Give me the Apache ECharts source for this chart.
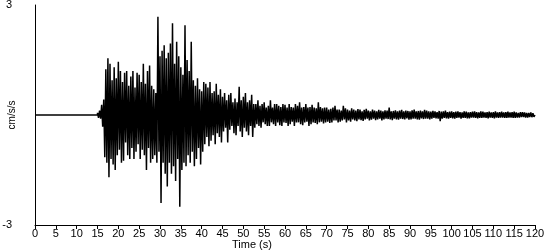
<!DOCTYPE html>
<html>
<head>
<meta charset="utf-8">
<script src="https://cdn.jsdelivr.net/npm/echarts@6/dist/echarts.min.js"></script>
<style>html,body{margin:0;padding:0;background:#fff;}#c{width:550px;height:250px;}</style>
</head>
<body>
<div id="c"></div>
<script>
// Recording: flat until onset, then samples every 0.25 s (values in cm/s/s)
const quietStart = 0;
const onsetTime = 15;
const sampleStep = 0.25;
const accel = [
  0.06,-0.08,0.12,-0.1,   0.28,-0.32,0.42,-1.15,  1.25,-1.3,1.55,-1.7,   1.4,-1.2,0.95,-1.35,
  1.3,-1.5,1.0,-1.1,      1.45,-0.95,1.2,-1.3,    0.9,-1.25,1.15,-0.75,  1.2,-1.1,0.8,-1.2,
  1.05,-0.9,1.2,-1.2,     0.75,-1.0,1.15,-0.8,    1.1,-1.2,0.9,-0.95,    1.4,-1.1,0.85,-1.5,
  1.2,-0.9,1.35,-1.3,     0.8,-1.2,0.7,-1.1,      0.6,-1.3,2.68,-1.0,    1.6,-2.4,1.75,-1.3,
  1.9,-1.6,1.55,-1.95,    1.7,-1.3,1.95,-1.6,     2.5,-1.4,1.4,-1.8,     2.0,-1.2,1.6,-2.5,
  1.3,-1.5,1.1,-1.3,      2.45,-1.4,1.5,-1.1,     1.2,-1.3,2.0,-1.0,     0.95,-1.4,0.8,-1.2,
  1.0,-0.9,0.7,-1.35,     0.65,-1.0,0.9,-0.8,     0.85,-0.6,0.75,-0.85,  0.9,-0.7,0.6,-0.55,
  0.65,-0.8,0.85,-0.5,    0.55,-0.6,0.7,-0.75,    0.5,-0.45,0.6,-0.35,   0.4,-0.75,0.55,-0.4,
  0.6,-0.3,0.35,-0.5,     0.45,-0.55,0.35,-0.3,   0.77,-0.45,0.4,-0.6,   0.5,-0.35,0.6,-0.45,
  0.35,-0.55,0.4,-0.3,    0.55,-0.6,0.3,-0.35,    0.3,-0.25,0.4,-0.3,    0.25,-0.35,0.3,-0.2,
  0.35,-0.25,0.2,-0.3,    0.25,-0.3,0.4,-0.2,     0.2,-0.25,0.3,-0.3,    0.3,-0.2,0.25,-0.28,
  0.22,-0.3,0.3,-0.2,     0.28,-0.22,0.2,-0.3,    0.3,-0.25,0.22,-0.18,  0.2,-0.3,0.3,-0.2,
  0.25,-0.2,0.35,-0.25,   0.2,-0.28,0.22,-0.2,    0.3,-0.18,0.2,-0.3,    0.22,-0.25,0.28,-0.2,
  0.2,-0.22,0.18,-0.25,   0.35,-0.2,0.22,-0.18,   0.18,-0.23,0.2,-0.2,   0.2,-0.18,0.15,-0.22,
  0.17,-0.2,0.2,-0.15,    0.25,-0.15,0.15,-0.2,   0.15,-0.18,0.12,-0.15, 0.25,-0.12,0.18,-0.2,
  0.15,-0.15,0.12,-0.18,  0.18,-0.12,0.15,-0.15,  0.12,-0.17,0.16,-0.12, 0.15,-0.14,0.1,-0.16,
  0.14,-0.12,0.17,-0.1,   0.12,-0.15,0.1,-0.13,   0.15,-0.1,0.12,-0.14,  0.1,-0.12,0.14,-0.1,
  0.12,-0.15,0.1,-0.12,   0.13,-0.1,0.12,-0.11,   0.2,-0.12,0.1,-0.14,   0.11,-0.1,0.13,-0.12,
  0.1,-0.13,0.12,-0.1,    0.14,-0.11,0.1,-0.12,   0.12,-0.09,0.11,-0.13, 0.1,-0.12,0.13,-0.1,
  0.15,-0.1,0.1,-0.12,    0.11,-0.13,0.12,-0.09,  0.1,-0.11,0.14,-0.1,   0.12,-0.1,0.1,-0.12,
  0.09,-0.1,0.11,-0.08,   0.1,-0.09,0.08,-0.1,    0.11,-0.17,0.09,-0.1,  0.1,-0.08,0.12,-0.09,
  0.08,-0.1,0.09,-0.08,   0.1,-0.09,0.08,-0.1,    0.09,-0.08,0.1,-0.07,  0.08,-0.1,0.07,-0.08,
  0.1,-0.08,0.09,-0.09,   0.07,-0.09,0.08,-0.07,  0.09,-0.07,0.1,-0.08,  0.08,-0.09,0.07,-0.08,
  0.1,-0.08,0.09,-0.07,   0.07,-0.08,0.08,-0.09,  0.09,-0.07,0.07,-0.08, 0.08,-0.09,0.1,-0.07,
  0.07,-0.08,0.08,-0.07,  0.09,-0.07,0.07,-0.08,  0.08,-0.08,0.09,-0.07, 0.07,-0.07,0.08,-0.08,
  0.09,-0.08,0.07,-0.07,  0.06,-0.07,0.08,-0.06,  0.08,-0.06,0.07,-0.07, 0.06,-0.07,0.06,-0.06,
  0.07,-0.06,0.05,-0.05,  0
];
const yTickValues = [-3, 3];
const xLabelText = 'Time (s)';
const yLabelText = 'cm/s/s';

const seriesData = [[quietStart, 0], [onsetTime, 0]].concat(
  accel.map((v, i) => [onsetTime + i * sampleStep, v])
);

const chart = echarts.init(document.getElementById('c'), null, { renderer: 'canvas' });
const font = 'Liberation Sans, Arial, sans-serif';
chart.setOption({
  animation: false,
  backgroundColor: '#fff',
  grid: { left: 35, right: 15, top: 5, bottom: 25, containLabel: false, outerBoundsMode: 'none' },
  xAxis: {
    type: 'value', min: 0, max: 120, interval: 5,
    axisLine: { show: true, onZero: false, lineStyle: { color: '#000', width: 1 } },
    axisTick: { show: true, length: 4, lineStyle: { color: '#000' } },
    axisLabel: { color: '#000', fontFamily: font, fontSize: 11, margin: 3 },
    splitLine: { show: false }
  },
  yAxis: {
    type: 'value', min: yTickValues[0], max: yTickValues[1], interval: 6,
    axisLine: { show: true, lineStyle: { color: '#000', width: 1 } },
    axisTick: { show: false },
    axisLabel: { color: '#000', fontFamily: font, fontSize: 11, margin: 23, align: 'right' },
    splitLine: { show: false }
  },
  graphic: [{
    type: 'text', left: 232, top: 239,
    style: { text: xLabelText, fill: '#000', font: '11px ' + font }
  }, {
    type: 'text', x: 12, y: 115, rotation: Math.PI / 2,
    style: { text: yLabelText, fill: '#000', font: '10px ' + font, align: 'center', verticalAlign: 'middle' }
  }],
  series: [{
    type: 'line', data: seriesData, showSymbol: false, symbol: 'none',
    sampling: null, smooth: false,
    lineStyle: { color: '#000', width: 1.5 }
  }]
});
</script>
</body>
</html>
